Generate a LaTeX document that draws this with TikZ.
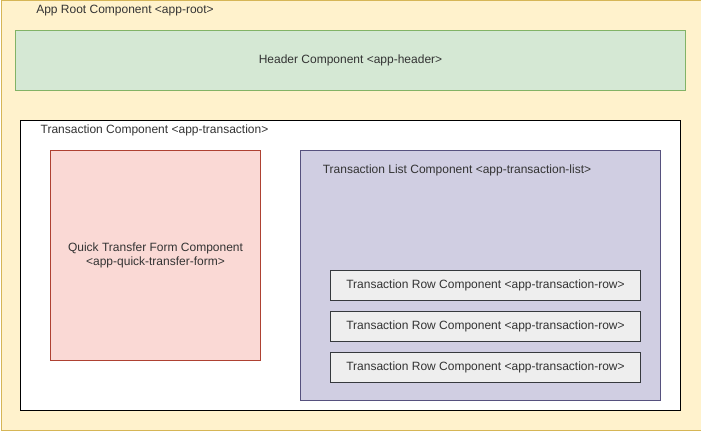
\documentclass[tikz,border=0pt]{standalone}
\usepackage{fontspec}
\setmainfont{Liberation Sans}
\usetikzlibrary{positioning}
\definecolor{rootfill}{HTML}{FFF2CC}
\definecolor{rootline}{HTML}{D6B656}
\definecolor{hdrfill}{HTML}{D5E8D4}
\definecolor{hdrline}{HTML}{82B366}
\definecolor{qtfill}{HTML}{FAD9D5}
\definecolor{qtline}{HTML}{AE4132}
\definecolor{lstfill}{HTML}{D0CEE2}
\definecolor{lstline}{HTML}{56517E}
\definecolor{rowfill}{HTML}{EEEEEE}
\definecolor{rowline}{HTML}{36393D}
\definecolor{txt}{HTML}{333333}
\begin{document}
\begin{tikzpicture}[x=0.75pt,y=-0.75pt,font=\fontsize{9pt}{10.5pt}\selectfont,text=txt,
  comp/.style={rectangle,line width=0.75pt,inner sep=0pt,anchor=north west,align=center},
  root/.style={comp,draw=rootline,fill=rootfill},
  hdr/.style={comp,draw=hdrline,fill=hdrfill},
  trx/.style={comp,draw=black,fill=white},
  qt/.style={comp,draw=qtline,fill=qtfill},
  lst/.style={comp,draw=lstline,fill=lstfill},
  rowbox/.style={comp,draw=rowline,fill=rowfill,minimum width=232.5pt,minimum height=22.5pt},
  lbl/.style={inner sep=0pt}]
  \useasboundingbox (0,0) rectangle (701,431);
  \node[root,minimum width=525pt,minimum height=322.5pt] (root) at (0.5,0.5) {};
  \node[lbl] (rootlbl) at (125,11) {App Root Component <app-root>};
  \node[hdr,minimum width=502.5pt,minimum height=45pt] (header) at (15,30) {Header Component <app-header>};
  \node[trx,minimum width=495pt,minimum height=217.5pt] (trans) at (20,120) {};
  \node[lbl] (translbl) at (154.5,130) {Transaction Component <app-transaction>};
  \node[qt,minimum width=157.5pt,minimum height=157.5pt] (quick) at (50,150) {Quick Transfer Form Component\\<app-quick-transfer-form>};
  \node[lst,minimum width=270pt,minimum height=187.5pt] (list) at (300,150) {};
  \node[lbl] (listlbl) at (457,170) {Transaction List Component <app-transaction-list>};
  \node[rowbox] (row1) at (330,270) {Transaction Row Component <app-transaction-row>};
  \node[rowbox,below=7.5pt of row1.south west,anchor=north west] (row2) {Transaction Row Component <app-transaction-row>};
  \node[rowbox,below=7.5pt of row2.south west,anchor=north west] (row3) {Transaction Row Component <app-transaction-row>};
\end{tikzpicture}
\end{document}
